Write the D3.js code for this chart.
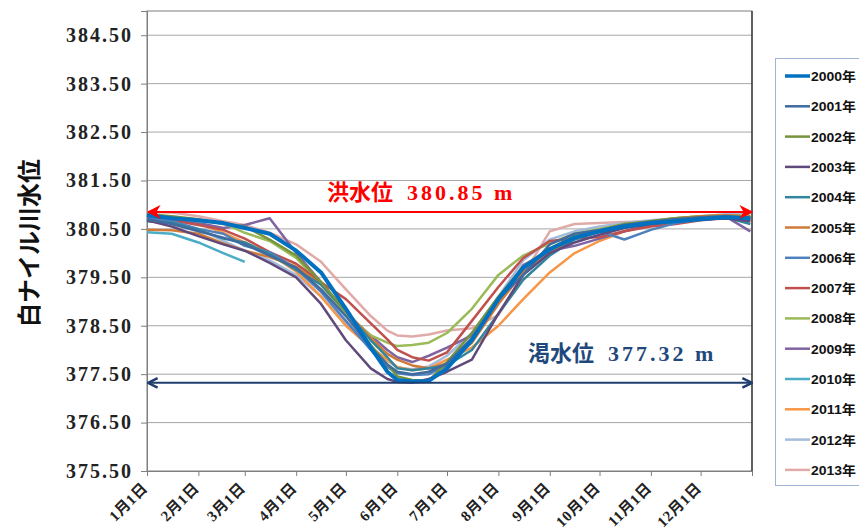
<!DOCTYPE html>
<html>
<head>
<meta charset="utf-8">
<script src="https://cdn.jsdelivr.net/npm/d3@7"></script>
<style>
  body { margin: 0; background: #fff; }
  svg { display: block; }
</style>
</head>
<body>
<svg id="chart" width="859" height="531"></svg>
<script>
// day-of-year sample points
var days = [0, 15, 31, 46, 59, 74, 90, 105, 120, 135, 145, 151, 160, 170, 181, 196, 212, 227, 243, 258, 273, 288, 304, 319, 334, 349, 364];

var monthDays = [0, 31, 59, 90, 120, 151, 181, 212, 243, 273, 304, 334, 365];
var monthLabels = ["1月1日", "2月1日", "3月1日", "4月1日", "5月1日", "6月1日", "7月1日", "8月1日", "9月1日", "10月1日", "11月1日", "12月1日"];
var yTicks = [375.5, 376.5, 377.5, 378.5, 379.5, 380.5, 381.5, 382.5, 383.5, 384.5];

var seriesNames = ["2000年", "2001年", "2002年", "2003年", "2004年", "2005年", "2006年", "2007年", "2008年", "2009年", "2010年", "2011年", "2012年", "2013年"];

var y2000 = [380.78, 380.72, 380.68, 380.62, 380.52, 380.40, 380.05, 379.60, 378.85, 378.05, 377.55, 377.38, 377.35, 377.36, 377.62, 378.20, 379.05, 379.70, 380.08, 380.32, 380.45, 380.55, 380.62, 380.66, 380.70, 380.74, 380.72];
var y2001 = [380.70, 380.60, 380.45, 380.32, 380.18, 379.95, 379.70, 379.25, 378.70, 378.05, 377.70, 377.55, 377.50, 377.55, 377.72, 378.25, 379.05, 379.55, 380.18, 380.40, 380.48, 380.58, 380.65, 380.70, 380.74, 380.76, 380.72];
var y2002 = [380.80, 380.76, 380.70, 380.60, 380.55, 380.28, 379.95, 379.40, 378.80, 378.10, 377.70, 377.45, 377.38, 377.36, 377.75, 378.35, 379.10, 379.72, 380.10, 380.35, 380.47, 380.60, 380.66, 380.72, 380.74, 380.76, 380.74];
var y2003 = [380.68, 380.55, 380.35, 380.18, 380.05, 379.80, 379.50, 378.95, 378.20, 377.62, 377.40, 377.34, 377.33, 377.40, 377.55, 377.80, 378.75, 379.55, 380.00, 380.22, 380.38, 380.52, 380.60, 380.66, 380.70, 380.72, 380.66];
var y2004 = [380.66, 380.62, 380.48, 380.30, 380.22, 379.98, 379.65, 379.35, 378.80, 378.20, 377.85, 377.62, 377.58, 377.62, 377.68, 378.00, 378.75, 379.45, 379.95, 380.28, 380.44, 380.55, 380.63, 380.70, 380.72, 380.74, 380.60];
var y2005 = [380.48, 380.47, 380.40, 380.20, 380.05, 379.92, 379.72, 379.35, 378.80, 378.25, 377.92, 377.80, 377.68, 377.62, 377.72, 378.15, 378.95, 379.60, 380.00, 380.30, 380.45, 380.57, 380.65, 380.72, 380.76, 380.78, 380.76];
var y2006 = [380.72, 380.66, 380.50, 380.40, 380.15, 380.02, 379.68, 379.20, 378.60, 378.00, 377.65, 377.52, 377.48, 377.50, 377.68, 378.20, 379.05, 379.65, 380.05, 380.30, 380.45, 380.28, 380.48, 380.62, 380.70, 380.72, 380.70];
var y2007 = [380.75, 380.68, 380.58, 380.48, 380.30, 380.02, 379.78, 379.40, 379.05, 378.55, 378.22, 378.00, 377.85, 377.78, 377.95, 378.60, 379.30, 379.90, 380.25, 380.30, 380.33, 380.45, 380.55, 380.60, 380.68, 380.72, 380.70];
var y2008 = [380.76, 380.74, 380.66, 380.62, 380.42, 380.25, 379.90, 379.35, 378.75, 378.30, 378.15, 378.08, 378.10, 378.15, 378.35, 378.85, 379.55, 379.95, 380.20, 380.40, 380.50, 380.60, 380.66, 380.72, 380.76, 380.78, 380.76];
var y2009 = [380.78, 380.70, 380.62, 380.52, 380.58, 380.72, 380.00, 379.40, 378.75, 378.30, 378.00, 377.85, 377.75, 377.88, 378.05, 378.30, 379.00, 379.75, 380.05, 380.15, 380.30, 380.45, 380.58, 380.66, 380.72, 380.76, 380.45];
var y2010 = [380.43, 380.40, 380.22, 380.00, 379.82, null, null, null, null, null, null, null, null, null, null, null, null, null, null, null, null, null, null, null, null, null, null];
var y2011 = [380.80, 380.74, 380.62, 380.42, 380.22, 379.98, 379.62, 379.10, 378.50, 378.05, 377.80, 377.65, 377.58, 377.62, 377.80, 378.05, 378.50, 379.05, 379.60, 380.00, 380.25, 380.45, 380.58, 380.66, 380.70, 380.72, 380.68];
var y2012 = [380.82, 380.62, 380.50, 380.25, 380.05, 379.85, 379.55, 379.10, 378.55, 378.05, 377.78, 377.64, 377.60, 377.66, 377.88, 378.35, 379.10, 379.85, 380.28, 380.45, 380.55, 380.62, 380.68, 380.72, 380.76, 380.80, 380.82];
var y2013 = [380.85, 380.84, 380.76, 380.66, 380.58, 380.42, 380.18, 379.82, 379.25, 378.70, 378.40, 378.30, 378.28, 378.32, 378.40, 378.45, 378.72, 379.55, 380.45, 380.60, 380.62, 380.64, 380.66, 380.70, 380.74, 380.78, 380.80];

var floodLevel = 380.85,
  droughtLevel = 377.32;

var seriesValues = [y2000, y2001, y2002, y2003, y2004, y2005, y2006, y2007, y2008, y2009, y2010, y2011, y2012, y2013];
var seriesColors = ["#0070C0", "#3F6B9E", "#77933C", "#604A7B", "#31859C", "#D07A3A", "#4F81BD", "#C0504D", "#9BBB59", "#8064A2", "#4BACC6", "#F79646", "#A5BBDB", "#E0AAA8"];

var svg = d3.select("#chart");

var plot = { left: 147, right: 752, top: 11, bottom: 471 };

var xScale = d3.scaleLinear().domain([0, 365]).range([plot.left, plot.right]);
var yScale = d3.scaleLinear().domain([375.5, 385.0]).range([plot.bottom, plot.top]);

var serif = "'Liberation Serif', 'Times New Roman', 'Noto Sans CJK JP', serif";
var gothic = "'Noto Sans CJK JP', 'Noto Sans', sans-serif";

// gridlines
svg.append("g")
  .selectAll("line")
  .data(yTicks.slice(1))
  .enter()
  .append("line")
  .attr("x1", plot.left)
  .attr("x2", plot.right)
  .attr("y1", function (d) { return yScale(d); })
  .attr("y2", function (d) { return yScale(d); })
  .attr("stroke", "#a6a6a6")
  .attr("stroke-width", 1);

// plot border
svg.append("rect")
  .attr("x", plot.left)
  .attr("y", plot.top)
  .attr("width", plot.right - plot.left)
  .attr("height", plot.bottom - plot.top)
  .attr("fill", "none")
  .attr("stroke", "#7f7f7f")
  .attr("stroke-width", 1);
svg.append("line")
  .attr("x1", plot.right).attr("x2", plot.right)
  .attr("y1", plot.top).attr("y2", plot.bottom)
  .attr("stroke", "#222").attr("stroke-width", 1.2);

// y axis
var yAxis = d3.axisLeft(yScale)
  .tickValues(yTicks)
  .tickSize(6)
  .tickFormat(d3.format(".2f"));
var gy = svg.append("g")
  .attr("transform", "translate(" + plot.left + ",0)")
  .call(yAxis);
gy.select(".domain").attr("stroke", "#7f7f7f");
gy.selectAll(".tick line").attr("stroke", "#7f7f7f");
gy.selectAll(".tick text")
  .attr("x", -14)
  .attr("font-family", serif)
  .attr("font-weight", "bold")
  .attr("font-size", 20)
  .attr("letter-spacing", 2)
  .attr("fill", "#222");

// x axis
var xAxis = d3.axisBottom(xScale)
  .tickValues(monthDays)
  .tickSize(5)
  .tickFormat(function (d, i) { return monthLabels[i] || ""; });
var gx = svg.append("g")
  .attr("transform", "translate(0," + plot.bottom + ")")
  .call(xAxis);
gx.select(".domain").attr("stroke", "#7f7f7f");
gx.selectAll(".tick line").attr("stroke", "#7f7f7f");
gx.selectAll(".tick text")
  .attr("font-family", serif)
  .attr("font-weight", "bold")
  .attr("font-size", 15)
  .attr("letter-spacing", 0.5)
  .attr("fill", "#222")
  .attr("text-anchor", "end")
  .attr("dy", null)
  .attr("y", 0)
  .attr("transform", "translate(1,18) rotate(-45)");

// axis title
svg.append("text")
  .attr("transform", "translate(27,243) rotate(-90)")
  .attr("text-anchor", "middle")
  .attr("dominant-baseline", "central")
  .attr("font-family", gothic)
  .attr("font-weight", "bold")
  .attr("font-size", 24)
  .attr("fill", "#111")
  .text("白ナイル川水位");

// series lines
var line = d3.line()
  .defined(function (d) { return d[1] !== null; })
  .x(function (d) { return xScale(d[0]); })
  .y(function (d) { return yScale(d[1]); });

var drawOrder = [13, 12, 11, 10, 9, 8, 7, 6, 5, 4, 3, 2, 1, 0];
svg.append("g")
  .selectAll("path")
  .data(drawOrder)
  .enter()
  .append("path")
  .attr("d", function (k) {
    return line(days.map(function (dd, i) { return [dd, seriesValues[k][i]]; }));
  })
  .attr("fill", "none")
  .attr("stroke", function (k) { return seriesColors[k]; })
  .attr("stroke-width", function (k) { return k === 0 ? 4 : 2.5; })
  .attr("stroke-linejoin", "round");

// markers for arrows
var defs = svg.append("defs");
defs.append("marker")
  .attr("id", "redHead")
  .attr("viewBox", "0 0 10 10")
  .attr("refX", 9).attr("refY", 5)
  .attr("markerWidth", 7).attr("markerHeight", 7)
  .attr("markerUnits", "strokeWidth")
  .attr("orient", "auto-start-reverse")
  .append("path")
  .attr("d", "M0,0 L10,5 L0,10 L3,5 Z")
  .attr("fill", "#ff0000");
defs.append("marker")
  .attr("id", "blueHead")
  .attr("viewBox", "0 0 10 10")
  .attr("refX", 9).attr("refY", 5)
  .attr("markerWidth", 6).attr("markerHeight", 6)
  .attr("markerUnits", "strokeWidth")
  .attr("orient", "auto-start-reverse")
  .append("path")
  .attr("d", "M1,1 L9,5 L1,9")
  .attr("fill", "none")
  .attr("stroke", "#1F3E6E")
  .attr("stroke-width", 2);

// flood level arrow
svg.append("line")
  .attr("x1", plot.left + 1).attr("x2", plot.right)
  .attr("y1", yScale(floodLevel)).attr("y2", yScale(floodLevel))
  .attr("stroke", "#ff0000").attr("stroke-width", 2)
  .attr("marker-start", "url(#redHead)")
  .attr("marker-end", "url(#redHead)");

var floodText = svg.append("text")
  .attr("x", 327)
  .attr("y", yScale(floodLevel) - 12)
  .attr("fill", "#ff0000")
  .attr("font-weight", "bold")
  .attr("font-size", 22);
floodText.append("tspan").attr("font-family", gothic).text("洪水位");
floodText.append("tspan").attr("font-family", serif).attr("dx", 14).attr("letter-spacing", 3).text(d3.format(".2f")(floodLevel) + " m");

// drought level arrow
svg.append("line")
  .attr("x1", plot.left + 1).attr("x2", plot.right)
  .attr("y1", yScale(droughtLevel)).attr("y2", yScale(droughtLevel))
  .attr("stroke", "#1F3E6E").attr("stroke-width", 2)
  .attr("marker-start", "url(#blueHead)")
  .attr("marker-end", "url(#blueHead)");

var droughtText = svg.append("text")
  .attr("x", 528)
  .attr("y", yScale(droughtLevel) - 22)
  .attr("fill", "#1F497D")
  .attr("font-weight", "bold")
  .attr("font-size", 22);
droughtText.append("tspan").attr("font-family", gothic).text("渇水位");
droughtText.append("tspan").attr("font-family", serif).attr("dx", 14).attr("letter-spacing", 3).text(d3.format(".2f")(droughtLevel) + " m");

// legend
var legend = svg.append("g");
legend.append("rect")
  .attr("x", 775.5).attr("y", 58.5)
  .attr("width", 90).attr("height", 427)
  .attr("fill", "#fff")
  .attr("stroke", "#9fb4d6")
  .attr("stroke-width", 1);

var item = legend.selectAll("g.item")
  .data(seriesNames)
  .enter()
  .append("g")
  .attr("class", "item")
  .attr("transform", function (d, i) { return "translate(0," + (76 + i * 30.3) + ")"; });
item.append("line")
  .attr("x1", 785).attr("x2", 810)
  .attr("stroke", function (d, i) { return seriesColors[i]; })
  .attr("stroke-width", function (d, i) { return i === 0 ? 3.5 : 2.5; });
item.append("text")
  .attr("x", 811)
  .attr("y", 5)
  .attr("font-family", "'Liberation Sans', Arial, 'Noto Sans CJK JP', sans-serif")
  .attr("font-weight", "bold")
  .attr("font-size", 13)
  .attr("textLength", 45)
  .attr("lengthAdjust", "spacingAndGlyphs")
  .attr("fill", "#111")
  .text(function (d) { return d; });
</script>
</body>
</html>
